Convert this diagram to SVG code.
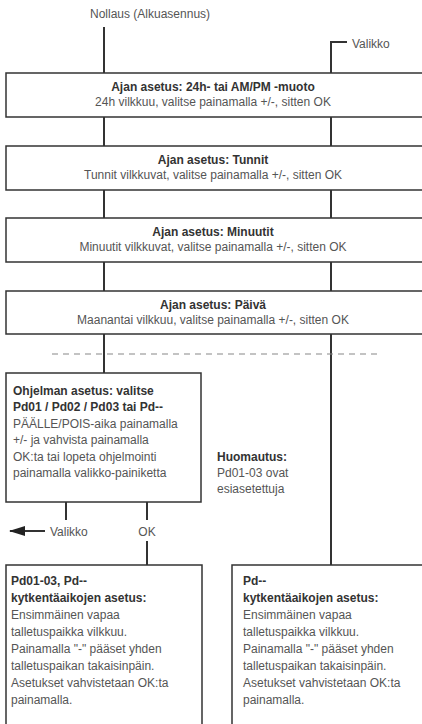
<svg xmlns="http://www.w3.org/2000/svg" width="422" height="724" viewBox="0 0 422 724">
<defs>
<style>
.box{fill:#fff;stroke:#333;stroke-width:1.5}
.con{stroke:#333;stroke-width:2;fill:none}
.dash{stroke:#888;stroke-width:1.2;stroke-dasharray:6 5;fill:none}
text{font-family:"Liberation Sans",Arial,sans-serif;font-size:12px;fill:#555}
.b{font-weight:bold;fill:#333}
.c{text-anchor:middle}
</style>
<marker id="ah" markerWidth="16" markerHeight="10" refX="15" refY="5" orient="auto" markerUnits="userSpaceOnUse">
<path d="M0,0 L16,5 L0,10 Z" fill="#222"/>
</marker>
</defs>
<g id="connectors">
<line class="con" x1="104" y1="27" x2="104" y2="373"/>
<polyline class="con" points="347,42 331,42 331,565"/>
<line class="dash" x1="52" y1="354" x2="380" y2="354"/>
<line class="con" x1="66" y1="502" x2="66" y2="520"/>
<line class="con" x1="147" y1="502" x2="147" y2="520"/>
<line class="con" x1="147" y1="541" x2="147" y2="565"/>
<line class="con" x1="45" y1="531" x2="10" y2="531" marker-end="url(#ah)"/>
</g>
<g id="labels">
<text x="90" y="18">Nollaus (Alkuasennus)</text>
<text x="352" y="48">Valikko</text>
<text x="50" y="536">Valikko</text>
<text x="147" y="536" class="c">OK</text>
</g>
<g id="n1">
<path class="box" d="M424,73 H6 V117 H424"/>
<text x="213" y="91" class="b c">Ajan asetus: 24h- tai AM/PM -muoto</text>
<text x="213" y="105.5" class="c">24h vilkkuu, valitse painamalla +/-, sitten OK</text>
</g>
<g id="n2">
<path class="box" d="M424,146 H6 V190 H424"/>
<text x="213" y="163.5" class="b c">Ajan asetus: Tunnit</text>
<text x="213" y="178.5" class="c">Tunnit vilkkuvat, valitse painamalla +/-, sitten OK</text>
</g>
<g id="n3">
<path class="box" d="M424,218 H6 V262 H424"/>
<text x="213" y="235.5" class="b c">Ajan asetus: Minuutit</text>
<text x="213" y="250.5" class="c">Minuutit vilkkuvat, valitse painamalla +/-, sitten OK</text>
</g>
<g id="n4">
<path class="box" d="M424,291 H6 V334 H424"/>
<text x="213" y="308.5" class="b c">Ajan asetus: Päivä</text>
<text x="213" y="323.5" class="c">Maanantai vilkkuu, valitse painamalla +/-, sitten OK</text>
</g>
<g id="n5">
<rect class="box" x="6" y="373" width="195" height="129"/>
<text x="13" y="394.5" class="b">Ohjelman asetus: valitse</text>
<text x="13" y="411" class="b">Pd01 / Pd02 / Pd03 tai Pd--</text>
<text x="13" y="427.5">PÄÄLLE/POIS-aika painamalla</text>
<text x="13" y="444">+/- ja vahvista painamalla</text>
<text x="13" y="460.5">OK:ta tai lopeta ohjelmointi</text>
<text x="13" y="477">painamalla valikko-painiketta</text>
</g>
<g id="note">
<text x="217" y="461" class="b">Huomautus:</text>
<text x="217" y="477">Pd01-03 ovat</text>
<text x="217" y="493">esiasetettuja</text>
</g>
<g id="n6">
<path class="box" d="M6,726 V565 H202 V726"/>
<text x="11" y="584.5" class="b">Pd01-03, Pd--</text>
<text x="11" y="601.5" class="b">kytkentäaikojen asetus:</text>
<text x="11" y="618.5">Ensimmäinen vapaa</text>
<text x="11" y="635.5">talletuspaikka vilkkuu.</text>
<text x="11" y="652.5">Painamalla "-" pääset yhden</text>
<text x="11" y="669.5">talletuspaikan takaisinpäin.</text>
<text x="11" y="686.5">Asetukset vahvistetaan OK:ta</text>
<text x="11" y="703.5">painamalla.</text>
</g>
<g id="n7">
<path class="box" d="M232,726 V565 H424"/>
<text x="243" y="584.5" class="b">Pd--</text>
<text x="243" y="601.5" class="b">kytkentäaikojen asetus:</text>
<text x="243" y="618.5">Ensimmäinen vapaa</text>
<text x="243" y="635.5">talletuspaikka vilkkuu.</text>
<text x="243" y="652.5">Painamalla "-" pääset yhden</text>
<text x="243" y="669.5">talletuspaikan takaisinpäin.</text>
<text x="243" y="686.5">Asetukset vahvistetaan OK:ta</text>
<text x="243" y="703.5">painamalla.</text>
</g>
</svg>
